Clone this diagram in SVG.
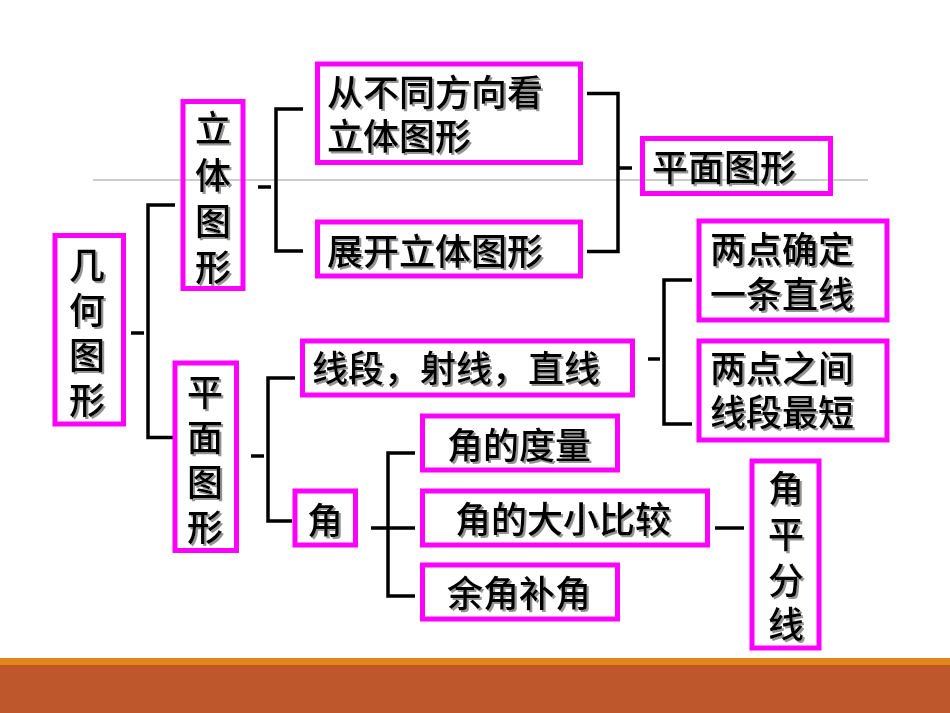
<svg xmlns="http://www.w3.org/2000/svg" width="950" height="713" viewBox="0 0 950 713">
<style>
.box{fill:none;stroke:#FF00FF;stroke-width:5}
.con{fill:none;stroke:#000;stroke-width:3.5}
.t{font-family:"Noto Sans CJK SC","Liberation Sans",sans-serif;font-size:36px;font-weight:500;fill:#000;filter:url(#sh)}
.v{text-anchor:middle}
</style>
<defs>
<filter id="sh" x="-10%" y="-10%" width="130%" height="130%">
<feDropShadow dx="2" dy="2" stdDeviation="0.6" flood-color="#888" flood-opacity="0.9"/>
</filter>
</defs>
<rect width="950" height="713" fill="#fff"/>
<line x1="93" y1="180" x2="868" y2="180" stroke="#999" stroke-width="1"/>
<g id="connectors">
<path class="con" d="M131 333H144"/>
<path class="con" d="M175 205H148V437.5H173"/>
<path class="con" d="M258 187H271"/>
<path class="con" d="M303 109H276V251H303"/>
<path class="con" d="M587 93.5H618V251.5H587M618 168H632"/>
<path class="con" d="M251 456H264"/>
<path class="con" d="M295 378H268V521H292"/>
<path class="con" d="M648 359H660"/>
<path class="con" d="M692 280H664V424H692"/>
<path class="con" d="M371 528H415M415 453H388V596H415"/>
<path class="con" d="M715 528H744"/>
</g>
<g id="n-jihe"><rect class="box" x="55" y="235.5" width="68.5" height="188.5"/>
<text class="t v" x="87"><tspan x="87" y="279">几</tspan><tspan x="87" y="324">何</tspan><tspan x="87" y="369">图</tspan><tspan x="87" y="414">形</tspan></text></g>
<g id="n-liti"><rect class="box" x="183" y="101.5" width="60" height="187"/>
<text class="t v"><tspan x="213" y="142">立</tspan><tspan x="213" y="189">体</tspan><tspan x="213" y="235">图</tspan><tspan x="213" y="281">形</tspan></text></g>
<g id="n-pingmian-v"><rect class="box" x="175" y="363" width="61.5" height="187.5"/>
<text class="t v"><tspan x="205" y="406">平</tspan><tspan x="205" y="451">面</tspan><tspan x="205" y="496">图</tspan><tspan x="205" y="541">形</tspan></text></g>
<g id="n-kan"><rect class="box" x="317.5" y="64" width="263" height="98.5"/>
<text class="t"><tspan x="327" y="106">从不同方向看</tspan><tspan x="327" y="150">立体图形</tspan></text></g>
<g id="n-zhankai"><rect class="box" x="317.5" y="222" width="263" height="54"/>
<text class="t" x="327" y="265">展开立体图形</text></g>
<g id="n-pingmian-h"><rect class="box" x="642.5" y="138.5" width="188" height="55"/>
<text class="t" x="652" y="181">平面图形</text></g>
<g id="n-queding"><rect class="box" x="699" y="221" width="188" height="99"/>
<text class="t"><tspan x="710" y="263">两点确定</tspan><tspan x="710" y="308">一条直线</tspan></text></g>
<g id="n-xianduan"><rect class="box" x="302.5" y="341" width="330" height="54"/>
<text class="t" x="312" y="382">线段，射线，直线</text></g>
<g id="n-zuiduan"><rect class="box" x="699" y="341" width="188" height="99"/>
<text class="t"><tspan x="710" y="382">两点之间</tspan><tspan x="710" y="426">线段最短</tspan></text></g>
<g id="n-jiao"><rect class="box" x="295" y="491" width="60.5" height="54"/>
<text class="t" x="307" y="534">角</text></g>
<g id="n-duliang"><rect class="box" x="422.5" y="416" width="195" height="54"/>
<text class="t" x="447" y="459">角的度量</text></g>
<g id="n-bijiao"><rect class="box" x="422.5" y="491" width="285" height="54"/>
<text class="t" x="455" y="533">角的大小比较</text></g>
<g id="n-yujiao"><rect class="box" x="422.5" y="565" width="195" height="54"/>
<text class="t" x="447" y="607">余角补角</text></g>
<g id="n-pingfen"><rect class="box" x="752" y="461" width="67" height="187"/>
<text class="t v"><tspan x="786" y="502">角</tspan><tspan x="786" y="548">平</tspan><tspan x="786" y="594">分</tspan><tspan x="786" y="638">线</tspan></text></g>
<rect x="0" y="658" width="950" height="7" fill="#E2851A"/>
<rect x="0" y="665" width="950" height="48" fill="#BE582C"/>
</svg>
